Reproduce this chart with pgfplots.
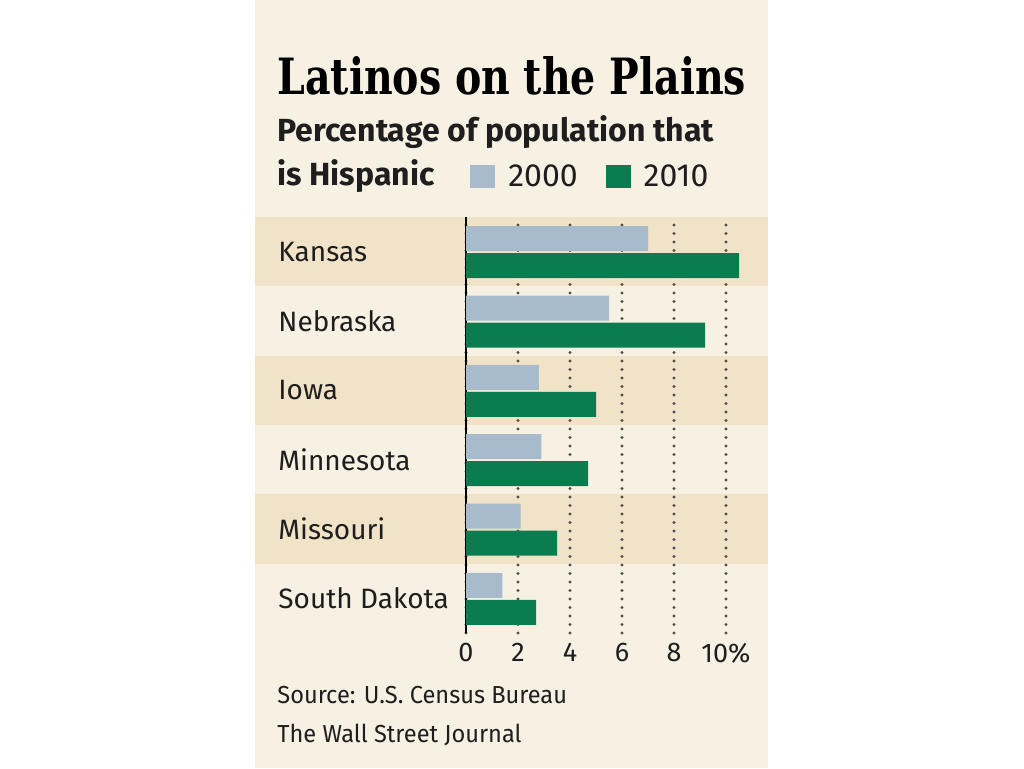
\documentclass[border=0pt]{standalone}
\usepackage{fontspec}
\setmainfont{Fira Sans}
\newfontfamily\titlefont{DejaVu Serif}
\newfontfamily\condfont{Fira Sans}[FakeStretch=0.96]
\usepackage{pgfplots}
\pgfplotsset{compat=1.18}

\definecolor{panel}{RGB}{247,241,228}
\definecolor{band}{RGB}{240,227,199}
\definecolor{c2000}{RGB}{168,187,205}
\definecolor{c2010}{RGB}{11,124,79}
\definecolor{gridc}{RGB}{80,75,68}
\definecolor{txt}{RGB}{30,30,30}

\begin{document}
\begin{tikzpicture}
% page and panel (1 px of the reference = 0.5pt)
\fill[white] (0,0) rectangle (512pt,384pt);
\fill[panel] (127.5pt,0) rectangle (384pt,384pt);
% alternating row bands: Kansas, Iowa, Missouri
\foreach \y in {240.83,171.5,102.17}
  \fill[band] (127.5pt,\y pt) rectangle (384pt,\y pt+34.667pt);

\node[anchor=base west, inner sep=0pt] at (138.5pt,337pt)
  {\scalebox{0.79}[1]{\fontsize{25}{25}\selectfont\titlefont\bfseries Latinos on the Plains}};
\node[anchor=base west, inner sep=0pt] at (138.5pt,313pt)
  {\fontsize{16}{16}\selectfont\bfseries\color{txt}Percentage of population that};
\node[anchor=base west, inner sep=0pt] at (138.5pt,291pt)
  {\fontsize{16}{16}\selectfont\bfseries\color{txt}is Hispanic};
\node[anchor=base west, inner sep=0pt] at (138.5pt,32.5pt)
  {\fontsize{12.3}{12.3}\selectfont\condfont\color{txt}Source: U.S. Census Bureau};
\node[anchor=base west, inner sep=0pt] at (138.5pt,13pt)
  {\fontsize{12.3}{12.3}\selectfont\condfont\color{txt}The Wall Street Journal};

\begin{axis}[
  at={(233pt,67.5pt)}, anchor=south west,
  scale only axis, width=151pt, height=208pt,
  xbar, bar width=12.5pt,
  xmin=0, xmax=11.615, ymin=-0.5, ymax=5.5,
  ytick={0,...,5},
  yticklabels={South Dakota,Missouri,Minnesota,Iowa,Nebraska,Kansas},
  xtick={0,2,...,10},
  xticklabels={0,2,4,6,8,10\%},
  axis y line*=left, axis x line*=bottom,
  x axis line style={draw=none},
  y axis line style={-, line width=1.4pt, black},
  major tick length=0pt,
  xmajorgrids,
  major grid style={gridc, line width=1.6pt, line cap=round, dash pattern=on 0pt off 4.25pt},
  /pgf/number format/assume math mode=true,
  ticklabel style={font=\fontsize{13.5}{13.5}\selectfont, text=txt},
  yticklabel style={anchor=west, inner sep=0pt, xshift=-94pt, font=\fontsize{14}{14}\selectfont},
  xticklabel style={yshift=-1.5pt},
  legend columns=2,
  legend style={at={(0.013,1.097)}, anchor=west, draw=none, fill=none,
    inner sep=0pt, font=\fontsize{16}{16}\selectfont, text=txt,
    /tikz/every odd column/.append style={column sep=4.5pt},
    /tikz/every even column/.append style={column sep=12pt}},
  legend image code/.code={\fill[#1] (0pt,-5.75pt) rectangle (12.5pt,5.75pt);},
]
\addplot[fill=c2000, draw=none, bar shift=6.5pt] coordinates {
  (1.4,0) (2.1,1) (2.9,2) (2.8,3) (5.5,4) (7.0,5)};
\addplot[fill=c2010, draw=none, bar shift=-7pt] coordinates {
  (2.7,0) (3.5,1) (4.7,2) (5.0,3) (9.2,4) (10.5,5)};
\legend{2000,2010}
\end{axis}
\end{tikzpicture}
\end{document}
